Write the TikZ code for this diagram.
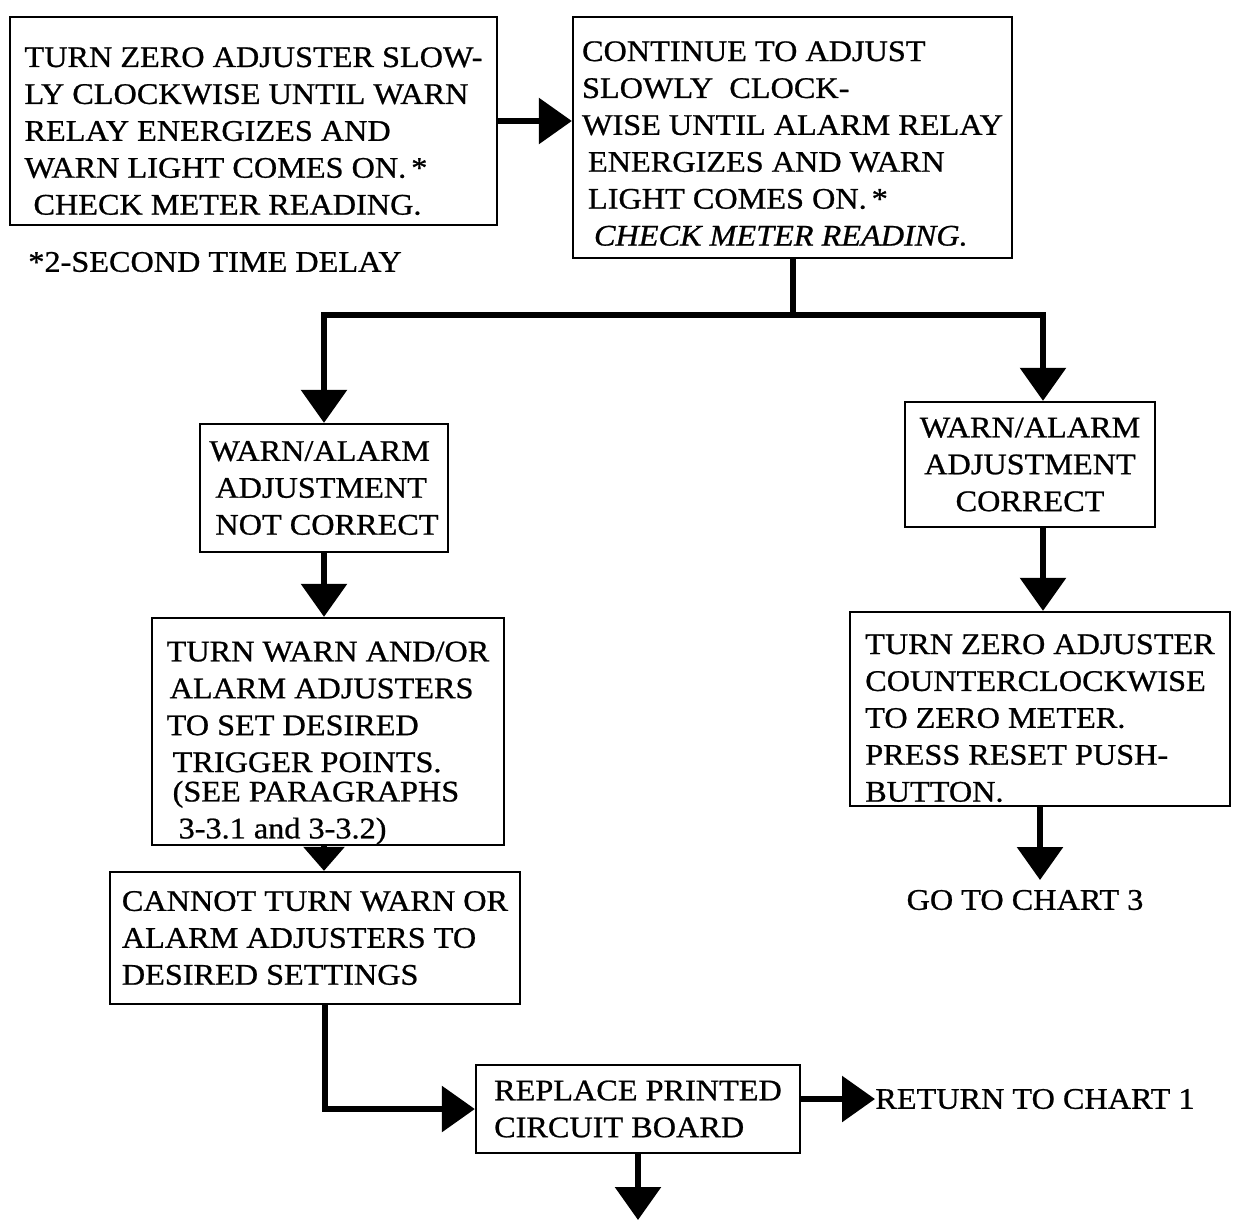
\documentclass[tikz,border=0pt]{standalone}
\usepackage{fontspec}
\setmainfont{Liberation Serif}[FakeStretch=1.08,FakeBold=0.8]
\usetikzlibrary{arrows.meta}

\begin{document}
\begin{tikzpicture}[
  box/.style={draw,line width=1.3pt,align=left,inner sep=0pt,font=\fontsize{17}{21}\selectfont},
  note/.style={inner sep=0pt,font=\fontsize{17}{21}\selectfont},
  wire/.style={line width=3.4pt,line join=miter},
  flow/.style={wire,-{Triangle[width=0.9cm,length=0.66cm]}}]
  \useasboundingbox (0,0) rectangle (24.72,-24.44);
  % boxes
  \node[box,minimum width=9.74cm,minimum height=4.16cm] (zeroCW) at (5.07,-2.42) {\rule{0pt}{0.8cm}TURN ZERO ADJUSTER SLOW-\\ LY CLOCKWISE UNTIL WARN\\ RELAY ENERGIZES AND\\ WARN LIGHT COMES ON.\,*\\ \hspace{0.3em}CHECK METER READING.};
  \node[box,minimum width=8.78cm,minimum height=4.82cm] (alarmCW) at (15.85,-2.75) {\rule{0pt}{0.64cm}CONTINUE TO ADJUST\\ SLOWLY\ \ CLOCK-\\ WISE UNTIL ALARM RELAY\\ \hspace{0.2em}ENERGIZES AND WARN\\ \hspace{0.2em}LIGHT COMES ON.\,*\\ \hspace{0.4em}\textit{CHECK METER READING.}};
  \node[box,minimum width=4.96cm,minimum height=2.56cm] (notOK) at (6.48,-9.76) {WARN/ALARM\\ \hspace{0.2em}ADJUSTMENT\\ \hspace{0.2em}NOT CORRECT};
  \node[box,align=center,minimum width=5.0cm,minimum height=2.5cm] (isOK) at (20.6,-9.29) {WARN/ALARM\\ ADJUSTMENT\\ CORRECT};
  \node[box,minimum width=7.04cm,minimum height=4.54cm] (setTrig) at (6.56,-14.63) {\rule{0pt}{0.86cm}TURN WARN AND/OR\\ \hspace{0.1em}ALARM ADJUSTERS\\ TO SET DESIRED\\ \hspace{0.2em}TRIGGER POINTS.\\[-0.15cm] \hspace{0.2em}(SEE PARAGRAPHS\\ \hspace{0.4em}3-3.1 and 3-3.2)};
  \node[box,minimum width=8.2cm,minimum height=2.64cm] (cannotSet) at (6.3,-18.76) {CANNOT TURN WARN OR\\ ALARM ADJUSTERS TO\\ DESIRED SETTINGS};
  \node[box,minimum width=6.48cm,minimum height=1.76cm] (replacePCB) at (12.76,-22.18) {REPLACE PRINTED\\ CIRCUIT BOARD};
  \node[box,minimum width=7.6cm,minimum height=3.88cm] (zeroCCW) at (20.8,-14.18) {\rule{0pt}{0.76cm}TURN ZERO ADJUSTER\\ COUNTERCLOCKWISE\\ TO ZERO METER.\\ PRESS RESET PUSH-\\ BUTTON.};
  % loose texts
  \node[note,anchor=west] (delayNote) at (0.56,-5.24) {*2-SECOND TIME DELAY};
  \node[note,anchor=west] (chartOne) at (17.5,-21.98) {RETURN TO CHART 1};
  \node[note] (chartThree) at (20.5,-18.0) {GO TO CHART 3};
  \coordinate (splitTop) at (15.85,-6.3); \coordinate (splitR) at (20.86,-6.3);
  \coordinate (goThree) at (20.8,-17.6); \coordinate (endDown) at (12.76,-24.4);
  % connectors
  \draw[flow] (zeroCW.east) -- (zeroCW.east -| alarmCW.west);
  \draw[wire] (alarmCW.south) -- (splitTop);
  \draw[flow] (splitTop) -| (notOK.north);
  \draw[flow] (splitTop) -- (splitR) -- (splitR |- isOK.north);
  \draw[flow] (notOK.south) -- (notOK.south |- setTrig.north);
  \draw[wire,-{Triangle[width=0.8cm,length=0.48cm]}] (notOK.south |- setTrig.south) -- (notOK.south |- cannotSet.north);
  \draw[flow] ([xshift=0.2cm]cannotSet.south) |- (replacePCB.west);
  \draw[flow] (replacePCB.east |- chartOne) -- (chartOne.west);
  \draw[flow] (replacePCB.south) -- (endDown);
  \draw[flow] (splitR |- isOK.south) -- (splitR |- zeroCCW.north);
  \draw[flow] (zeroCCW.south) -- (goThree);
\end{tikzpicture}
\end{document}
